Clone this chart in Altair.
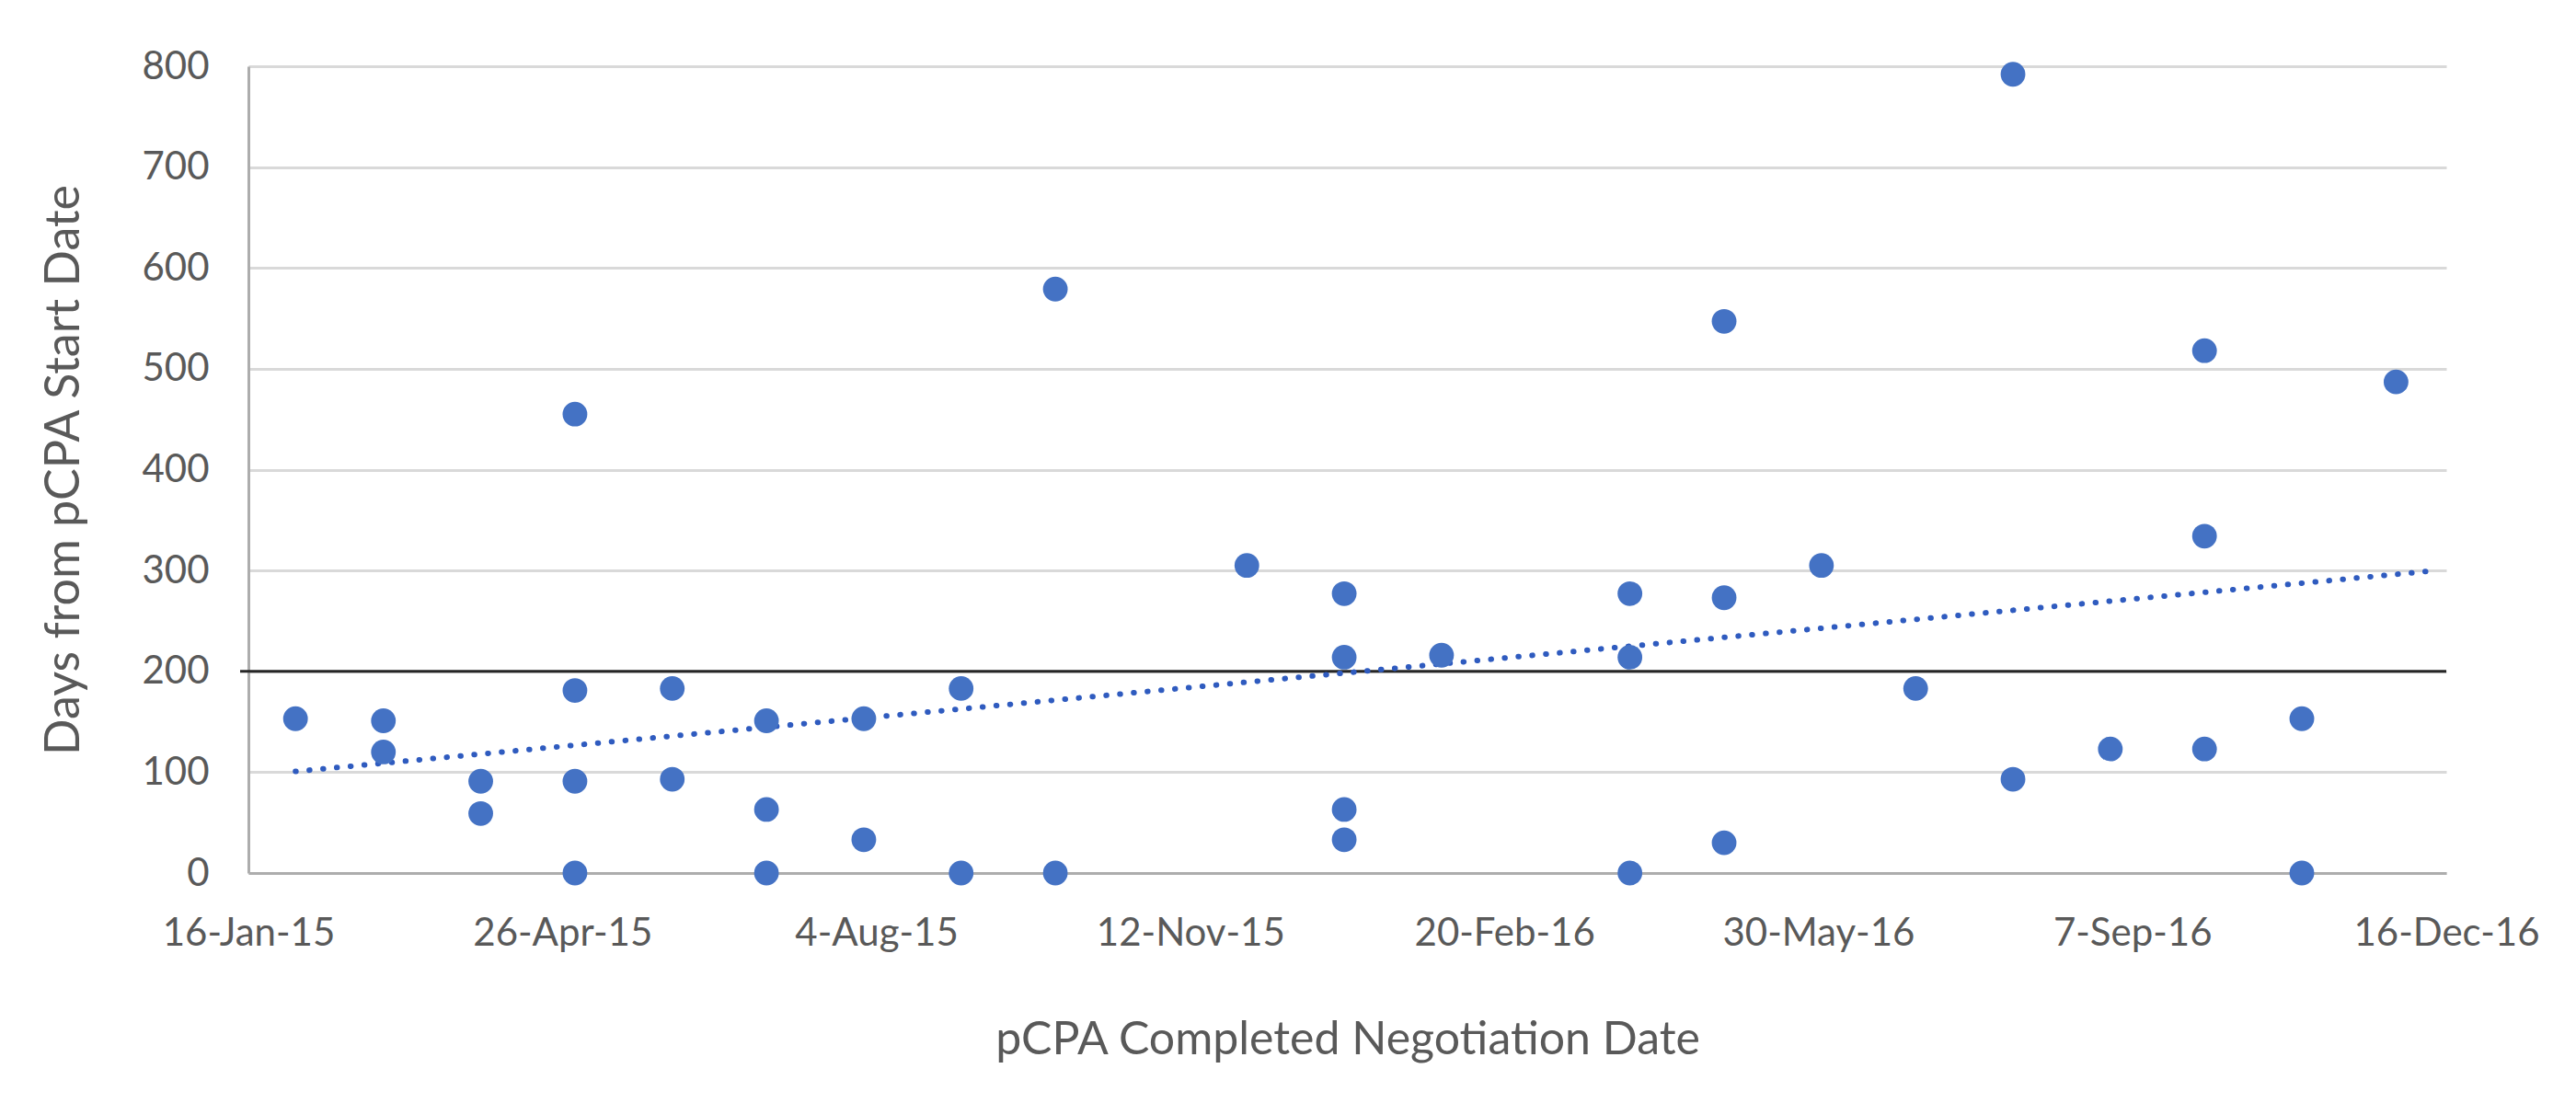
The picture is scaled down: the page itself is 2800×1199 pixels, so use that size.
import altair as alt
import numpy as np
import pandas as pd

# ---- data ----
DATES = [
    "2015-01-31",
    "2015-02-28", "2015-02-28",
    "2015-03-31", "2015-03-31",
    "2015-04-30", "2015-04-30", "2015-04-30", "2015-04-30",
    "2015-05-31", "2015-05-31",
    "2015-06-30", "2015-06-30", "2015-06-30",
    "2015-07-31", "2015-07-31",
    "2015-08-31", "2015-08-31",
    "2015-09-30", "2015-09-30",
    "2015-11-30",
    "2015-12-31", "2015-12-31", "2015-12-31", "2015-12-31",
    "2016-01-31",
    "2016-03-31", "2016-03-31", "2016-03-31",
    "2016-04-30", "2016-04-30", "2016-04-30",
    "2016-05-31",
    "2016-06-30",
    "2016-07-31", "2016-07-31",
    "2016-08-31",
    "2016-09-30", "2016-09-30", "2016-09-30",
    "2016-10-31", "2016-10-31",
    "2016-11-30",
]
DAYS = [
    153,
    151, 120,
    91, 59,
    455, 181, 91, 0,
    183, 93,
    151, 63, 0,
    153, 33,
    183, 0,
    579, 0,
    305,
    277, 214, 63, 33,
    216,
    277, 214, 0,
    547, 273, 30,
    305,
    183,
    792, 93,
    123,
    518, 334, 123,
    153, 0,
    487,
]
Y_TICKS = [0, 100, 200, 300, 400, 500, 600, 700, 800]
X_TICK_DATES = ["2015-01-16", "2015-04-26", "2015-08-04", "2015-11-12",
                "2016-02-20", "2016-05-30", "2016-09-07", "2016-12-16"]
X_DOMAIN = ["2015-01-16", "2016-12-16"]
TARGET_DAYS = 200
TREND_END = "2016-12-12"

X_TITLE = "pCPA Completed Negotiation Date"
Y_TITLE = "Days from pCPA Start Date"

# ---- tables ----
df = pd.DataFrame({"date": DATES, "days": DAYS})

# linear trendline (least squares on day numbers)
xd = pd.to_datetime(pd.Series(DATES)).astype("int64") / 86400e9
slope, intercept = np.polyfit(xd.values, np.array(DAYS, dtype=float), 1)
t0 = pd.to_datetime(DATES[0])
t1 = pd.to_datetime(TREND_END)
tx = [t0.value / 86400e9, t1.value / 86400e9]
trend = pd.DataFrame({
    "date": [t0.strftime("%Y-%m-%d"), t1.strftime("%Y-%m-%d")],
    "days": [intercept + slope * v for v in tx],
})
target = pd.DataFrame({"days": [TARGET_DAYS]})


def dt(s):
    y, m, d = (int(p) for p in s.split("-"))
    return alt.DateTime(year=y, month=m, date=d, utc=True)


FONT = "Lato"
TEXT = "#595959"
BLUE = "#4472C4"
W, H = 2389, 877

x_enc = alt.X(
    "date:T",
    scale=alt.Scale(type="utc", domain=[dt(s) for s in X_DOMAIN]),
    axis=alt.Axis(
        values=[dt(s) for s in X_TICK_DATES],
        labelExpr="utcFormat(datum.value, '%-d-%b-%y')",
        title=X_TITLE,
        grid=False,
        domain=True,
        domainColor="#ADADAD",
        domainWidth=3,
        ticks=False,
        tickSize=0,
        labelPadding=45,
        labelFont=FONT,
        labelFontSize=42,
        labelColor=TEXT,
        labelFlush=False,
        labelOverlap=False,
        labelLimit=600,
        titleFont=FONT,
        titleFontSize=50,
        titleFontWeight="normal",
        titleColor=TEXT,
        titlePadding=70,
    ),
)
y_enc = alt.Y(
    "days:Q",
    scale=alt.Scale(domain=[0, 800], nice=False),
    axis=alt.Axis(
        values=Y_TICKS,
        title=Y_TITLE,
        grid=True,
        gridColor="#D9D9D9",
        gridWidth=3,
        domain=True,
        domainColor="#ADADAD",
        domainWidth=3,
        ticks=False,
        tickSize=0,
        labelPadding=43,
        labelFont=FONT,
        labelFontSize=42,
        labelColor=TEXT,
        labelLimit=600,
        titleFont=FONT,
        titleFontSize=52,
        titleFontWeight="normal",
        titleColor=TEXT,
        titlePadding=57,
    ),
)

rule = alt.Chart(target).mark_rule(color="#262626", strokeWidth=3).encode(
    y=alt.Y("days:Q", scale=alt.Scale(domain=[0, 800], nice=False)),
    x=alt.value(-9),
    x2=alt.value(W),
)

trend_line = alt.Chart(trend).mark_line(
    color="#2F5BBF", strokeWidth=6, strokeCap="round", strokeDash=[0.5, 14.5]
).encode(x=x_enc, y=y_enc)

points = alt.Chart(df).mark_circle(size=720, color=BLUE, opacity=1).encode(
    x=x_enc, y=y_enc
)

chart = (
    alt.layer(rule, trend_line, points)
    .resolve_scale(x="shared", y="shared")
    .properties(
        width=W,
        height=H,
        background="white",
        autosize=alt.AutoSizeParams(type="none"),
        padding={"left": 262, "top": 64, "right": 133, "bottom": 242},
    )
    .configure_view(stroke=None)
)

chart.save("out.html", embed_options={"renderer": "svg", "actions": False})
